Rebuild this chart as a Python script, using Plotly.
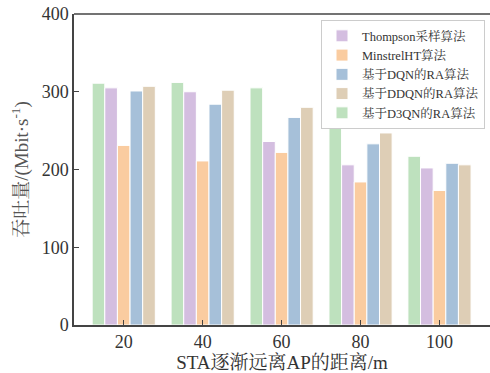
import plotly.graph_objects as go

distances = ["20", "40", "60", "80", "100"]
d3qn = [311, 312, 305, 266, 217]
thompson = [305, 300, 236, 206, 202]
minstrel = [231, 211, 222, 184, 173]
dqn = [301, 284, 267, 233, 208]
ddqn = [307, 302, 280, 247, 206]

series = [
    ("基于D3QN的RA算法", d3qn, "rgb(190,225,190)", 5),
    ("Thompson采样算法", thompson, "rgb(212,190,224)", 1),
    ("MinstrelHT算法", minstrel, "rgb(250,204,160)", 2),
    ("基于DQN的RA算法", dqn, "rgb(166,192,217)", 3),
    ("基于DDQN的RA算法", ddqn, "rgb(222,206,182)", 4),
]

font_serif = "Liberation Serif, 'Noto Serif CJK SC', 'Noto Sans CJK SC', serif"

fig = go.Figure()
for name, vals, color, rank in series:
    fig.add_trace(go.Bar(
        x=distances, y=vals, name=name, legendrank=rank,
        marker=dict(color=color, line=dict(color="white", width=1)),
    ))

fig.update_layout(
    width=490, height=373,
    margin=dict(l=74, r=0, t=14, b=48, autoexpand=False),
    paper_bgcolor="white", plot_bgcolor="white",
    barmode="group", bargap=0.2, bargroupgap=0.0,
    font=dict(family=font_serif, color="#333333"),
    legend=dict(
        x=0.988, y=0.98, xanchor="right", yanchor="top",
        bgcolor="white", bordercolor="#cccccc", borderwidth=1,
        font=dict(size=12.5, family=font_serif, color="#333333"),
        tracegroupgap=0, itemwidth=30,
    ),
    showlegend=True,
)
fig.update_xaxes(
    type="category", range=[-0.63, 4.64], automargin=False,
    showline=True, linecolor="#444444", linewidth=1.5,
    ticks="inside", ticklen=5, tickcolor="#444444",
    tickfont=dict(size=18, family=font_serif, color="#333333"),
    title=dict(text="STA逐渐远离AP的距离/m", font=dict(size=19, family=font_serif, color="#333333"), standoff=0),
    showgrid=False,
)
fig.update_yaxes(
    range=[0, 400], tickvals=[0, 100, 200, 300, 400], automargin=False,
    showline=True, linecolor="#444444", linewidth=1.5,
    ticks="inside", ticklen=5, tickcolor="#444444",
    tickfont=dict(size=18, family=font_serif, color="#333333"),
    title=dict(text="吞吐量/(Mbit·s<sup>-1</sup>)", font=dict(size=19, family=font_serif, color="#555555"), standoff=8),
    showgrid=False, zeroline=False,
)
fig.add_shape(type="line", xref="paper", yref="paper", x0=0, x1=1, y0=1, y1=1,
              line=dict(color="#444444", width=1.5))

fig.write_html("out.html", config={"displayModeBar": False},
               post_script="document.body.style.margin='0';")
